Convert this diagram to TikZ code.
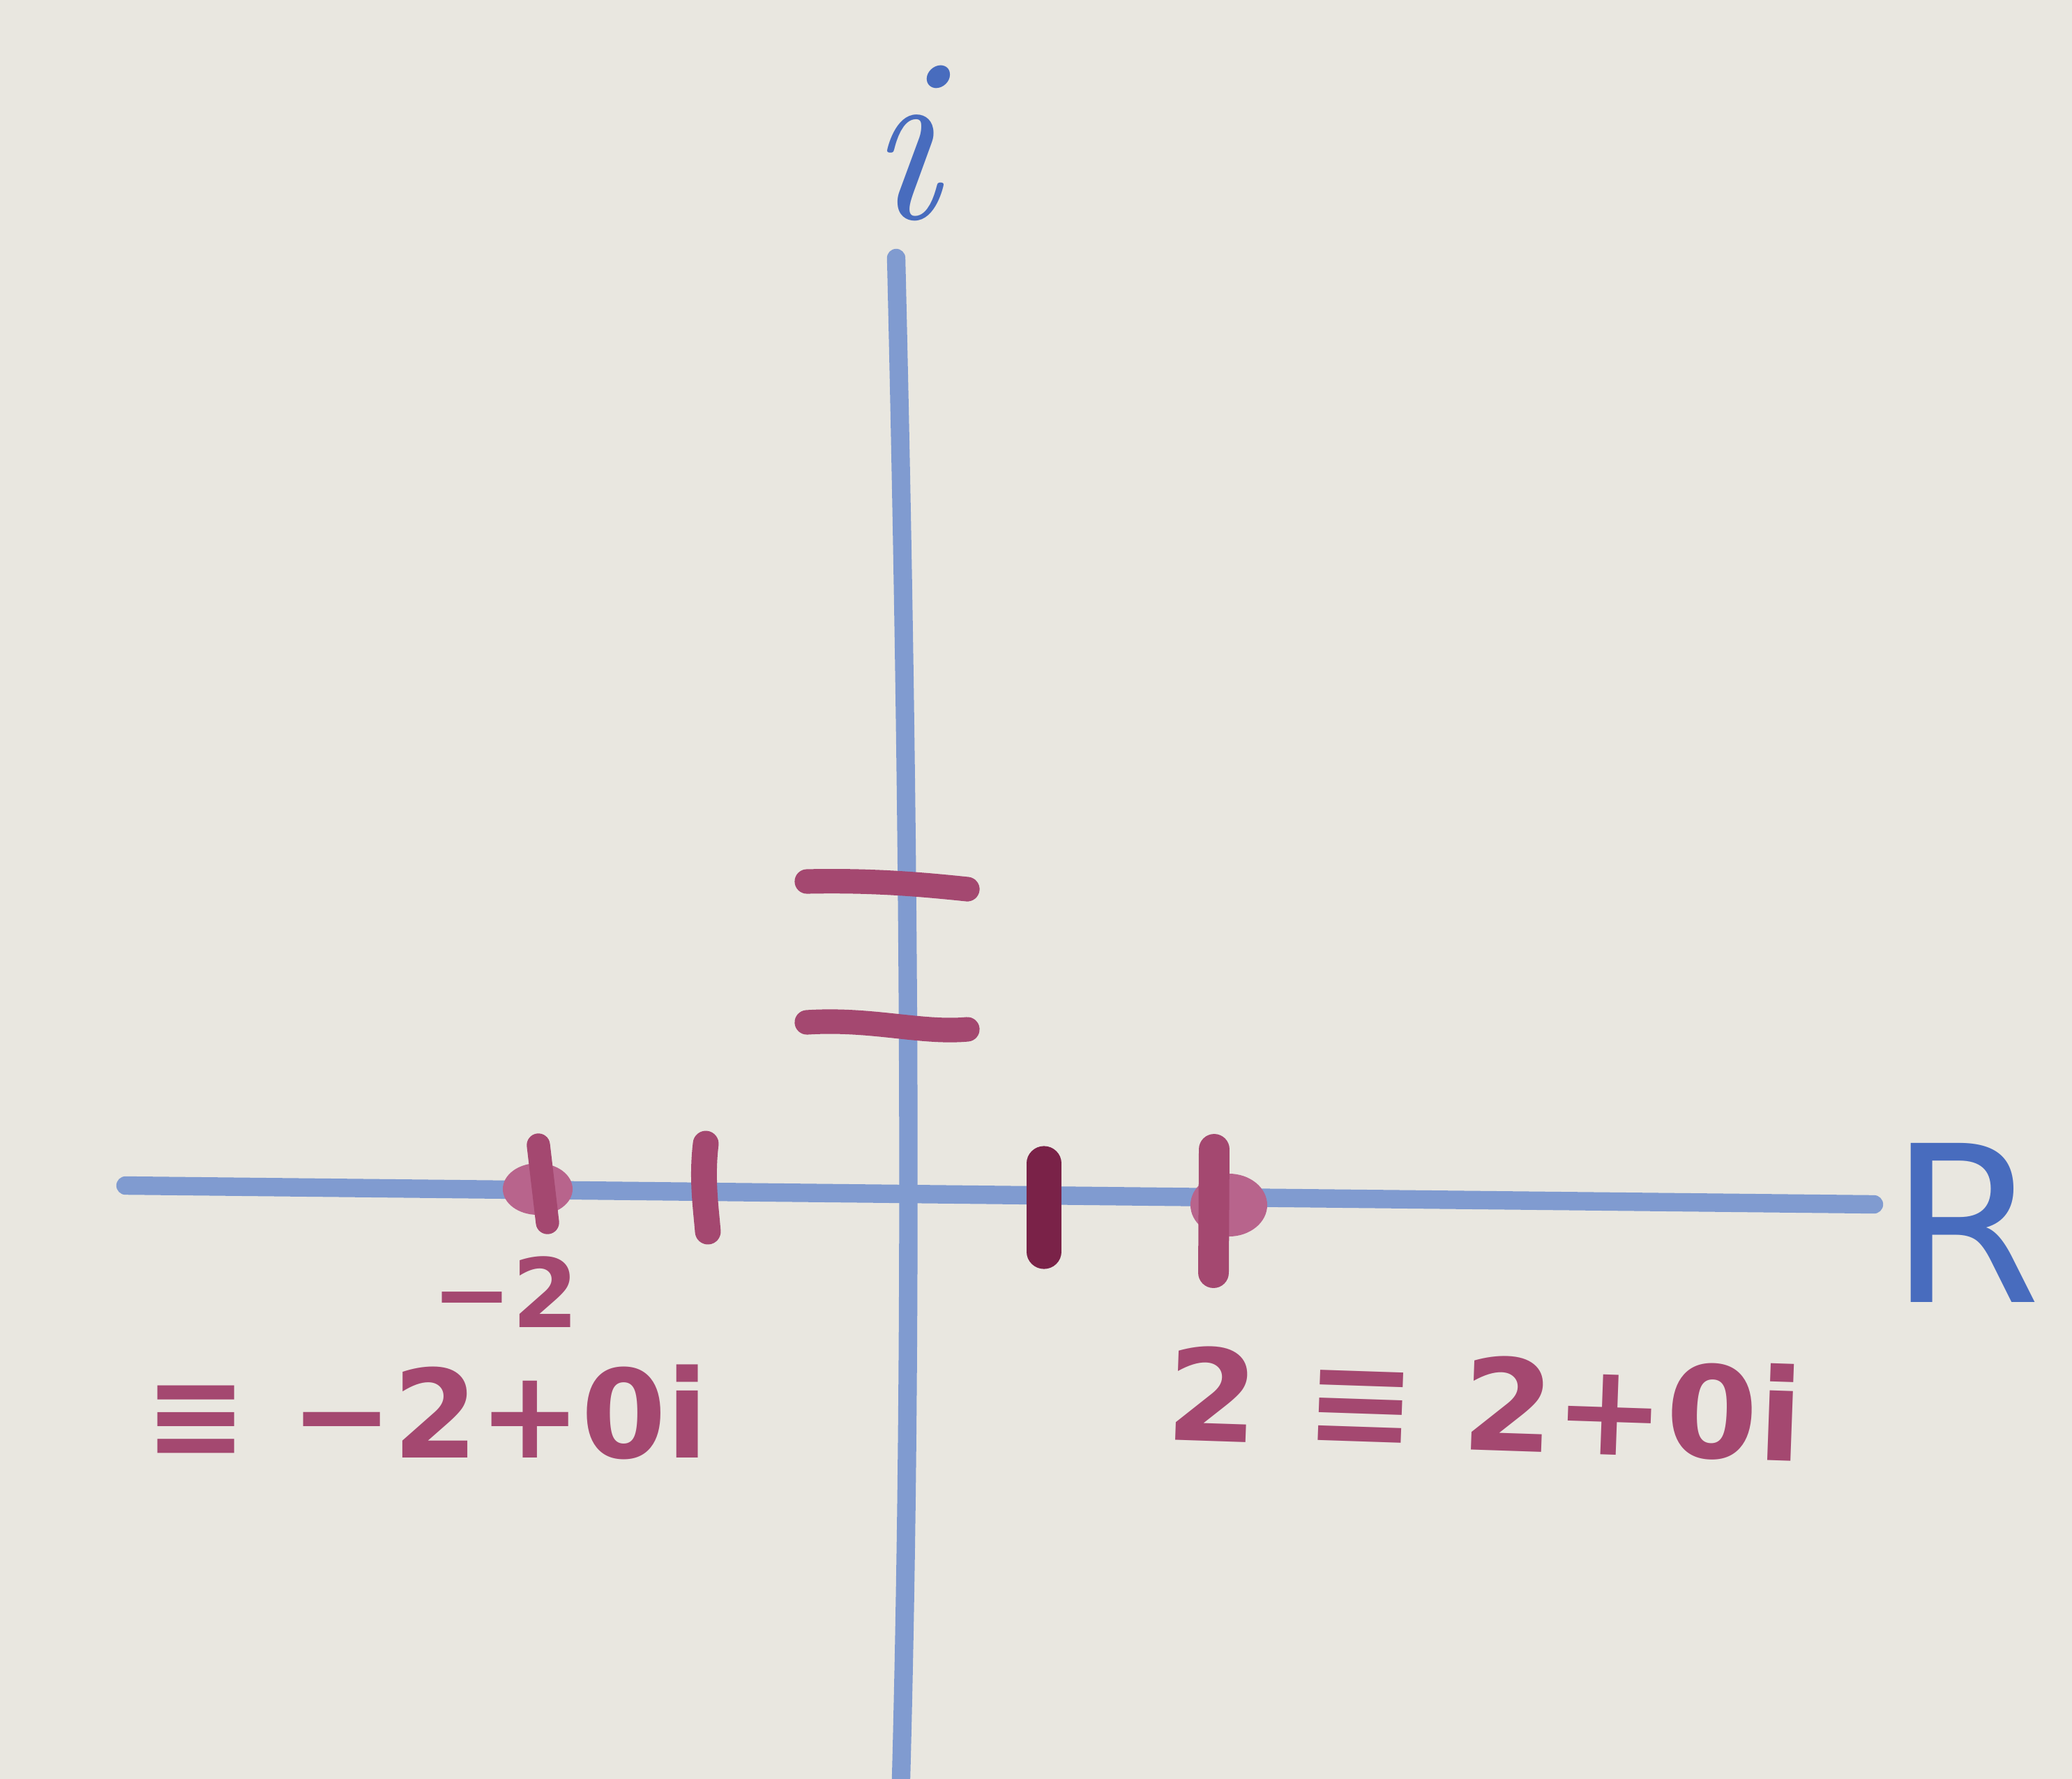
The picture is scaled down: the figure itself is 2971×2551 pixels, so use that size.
\documentclass[tikz,border=0pt]{standalone}
\usepackage{fontspec}
\setmainfont{DejaVu Sans}
\definecolor{board}{RGB}{233,231,224}
\definecolor{axisblue}{RGB}{128,155,208}
\definecolor{inkblue}{RGB}{72,108,190}
\definecolor{inkmag}{RGB}{164,72,112}
\definecolor{inkmagdark}{RGB}{122,34,72}
\definecolor{blobmag}{RGB}{184,100,140}
\begin{document}
\begin{tikzpicture}[x=0.01cm,y=-0.01cm,
  axisline/.style={draw=axisblue,line width=7.5pt,line cap=round},
  tickmark/.style={draw=inkmag,line width=10pt,line cap=round},
  lbl/.style={text=inkmag,inner sep=0pt,anchor=base,font=\bfseries},
  axlbl/.style={text=inkblue,inner sep=0pt,anchor=base}]
\fill[board] (0,0) rectangle (2971,2551);
\useasboundingbox (0,0) rectangle (2971,2551);
% axes
\coordinate (xl) at (180,1700);
\coordinate (xr) at (2687,1727);
\coordinate (yt) at (1285,370);
\coordinate (yb) at (1292,2551);
\draw[axisline] (xl) -- (xr);
\draw[axisline] (yt) .. controls (1300,1000) and (1312,1800) .. (yb);
% axis labels
\node[axlbl,font=\usefont{TU}{lmr}{m}{it}\fontsize{96}{100}\selectfont] (ilab) at (1295,313) {i};
\node[axlbl,font=\fontsize{89}{95}\selectfont] (rlab) at (2818,1867) {R};
% ticks on the imaginary axis
\draw[tickmark] (1157,1264) .. controls (1250,1262) and (1320,1268) .. (1387,1275);
\draw[tickmark] (1157,1466) .. controls (1250,1460) and (1320,1482) .. (1387,1476);
% ticks on the real axis
\fill[blobmag] (771,1705) ellipse [x radius=0.5cm, y radius=0.37cm];
\draw[tickmark,line width=9.5pt] (772,1642) -- (785,1753);
\draw[tickmark,line width=10.5pt] (1012,1640) .. controls (1006,1690) and (1012,1730) .. (1015,1766);
\draw[tickmark,draw=inkmagdark,line width=14pt] (1497,1668) -- (1497,1795);
\fill[blobmag] (1762,1728) ellipse [x radius=0.55cm, y radius=0.45cm];
\draw[tickmark,line width=12.5pt] (1741,1648) -- (1740,1825);
% labels
\node[lbl,font=\bfseries\fontsize{39}{42}\selectfont] (m2) at (725,1903) {−2};
\node[lbl,font=\bfseries\fontsize{50}{54}\selectfont] (leq) at (612,2090) {≡ −2+0i};
\node[lbl,font=\bfseries\fontsize{52}{56}\selectfont,xscale=1.04,rotate=-2] (req) at (2127,2080) {2 ≡ 2+0i};
\end{tikzpicture}
\end{document}
